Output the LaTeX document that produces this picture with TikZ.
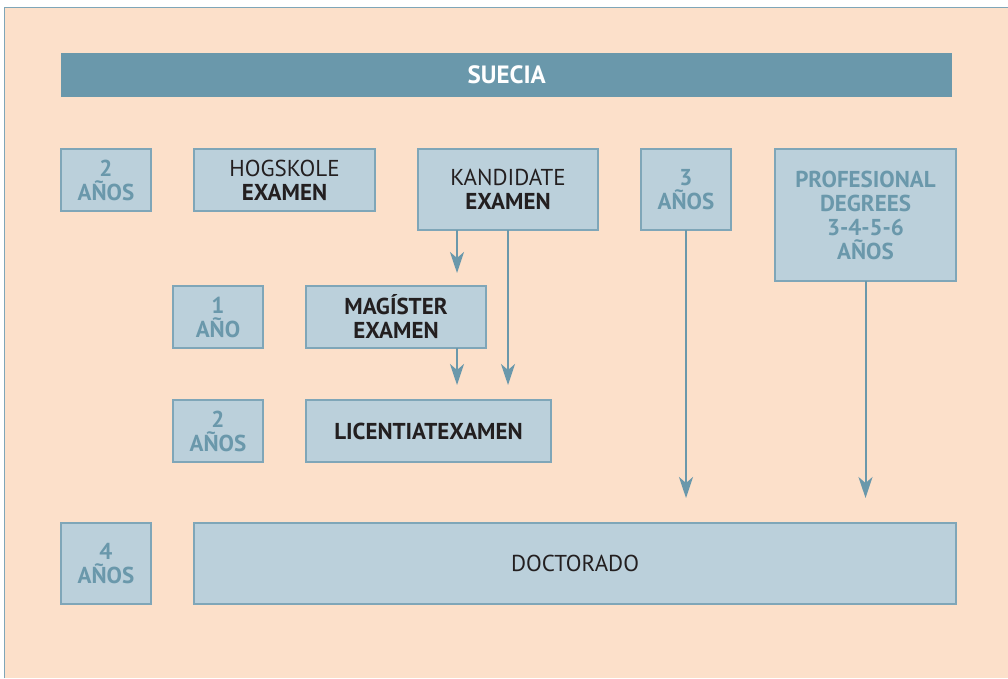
\documentclass[tikz,border=0pt]{standalone}
\usepackage{fontspec}
\setmainfont{PT Sans}
\usetikzlibrary{arrows.meta, positioning}
\definecolor{sebeige}{HTML}{FCE0CA}
\definecolor{seblue}{HTML}{6A98AB}
\definecolor{sebox}{HTML}{BBD0DB}
\definecolor{seline}{HTML}{7FA6B8}
\definecolor{setext}{HTML}{231F20}
\newcommand{\boxfont}{\fontsize{23}{24}\selectfont}

\begin{document}
\begin{tikzpicture}[
    x=1pt, y=-1pt,
    node distance=43pt,
    title/.style={rectangle, fill=seblue, text=white, font=\fontsize{25}{26}\selectfont\bfseries, minimum width=891pt, minimum height=44pt, inner sep=0pt, anchor=north west},
    exam/.style={rectangle, draw=seline, fill=sebox, line width=1.2pt, text=setext, align=center, inner sep=0pt, outer sep=0pt, font=\boxfont},
    years/.style={exam, text=seblue, font=\boxfont\bfseries, minimum width=90pt},
    arrow/.style={-{Stealth[length=21pt, width=14pt, inset=6pt]}, draw=seblue, line width=2pt}
]

\useasboundingbox (0,0) rectangle (1008,678);
\fill[sebeige] (4,7) rectangle (1008,678);
\draw[seline, line width=1pt] (4,678) -- (4,7) -- (1008,7);

\node[title] (suecia) at (61,53) {SUECIA};

% first row
\node[years, minimum height=62pt, anchor=north west] (dosanos) at (61,149) {2\\AÑOS};
\node[exam, minimum width=181pt, minimum height=62pt, right=of dosanos] (hogskole) {HOGSKOLE\\\textbf{EXAMEN}};
\node[exam, minimum width=180pt, minimum height=81pt, right=of hogskole.north east, anchor=north west] (kandidate) {KANDIDATE\\\textbf{EXAMEN}};
\node[years, minimum height=81pt, right=of kandidate] (tresanos) {3\\AÑOS};
\node[years, minimum width=181pt, minimum height=132pt, right=44pt of tresanos.north east, anchor=north west] (profesional) {PROFESIONAL\\DEGREES\\3-4-5-6\\AÑOS};

% second and third row
\node[years, minimum height=62pt, anchor=north west] (unano) at (173,286) {1\\AÑO};
\node[exam, minimum width=180pt, minimum height=62pt, font=\boxfont\bfseries, right=of unano] (magister) {MAGÍSTER\\EXAMEN};
\node[years, minimum height=62pt, anchor=north west] (dosanosb) at (173,400) {2\\AÑOS};
\node[exam, minimum width=245pt, minimum height=62pt, font=\boxfont\bfseries, right=of dosanosb] (licentiate) {LICENTIATEXAMEN};

% doctorate
\node[years, minimum height=81pt, anchor=north west] (cuatroanos) at (61,523) {4\\AÑOS};
\node[exam, minimum width=762pt, minimum height=81pt, right=of cuatroanos] (doctorado) {DOCTORADO};

\coordinate (kl) at ([xshift=39pt]kandidate.south west);
\draw[arrow, shorten >=13pt] (kl) -- (kl |- magister.north);
\draw[arrow, shorten >=15pt] (kandidate.south) -- (kandidate.south |- licentiate.north);
\draw[arrow, shorten >=15pt] (kl |- magister.south) -- (kl |- licentiate.north);
\draw[arrow, shorten >=25pt] (tresanos) -- (tresanos.south |- doctorado.north);
\draw[arrow, shorten >=25pt] (profesional) -- (profesional.south |- doctorado.north);

\end{tikzpicture}
\end{document}
